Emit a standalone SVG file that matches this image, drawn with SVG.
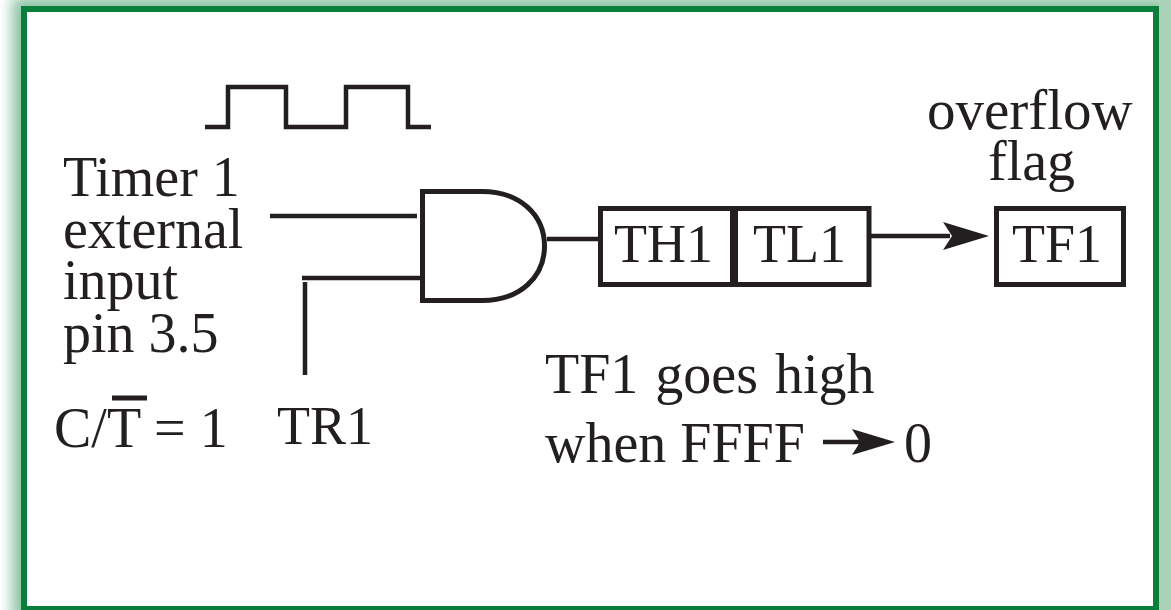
<svg xmlns="http://www.w3.org/2000/svg" width="1171" height="610" viewBox="0 0 1171 610">
<style>
text{font-family:"Liberation Serif","Times New Roman",serif;font-size:56px;fill:#231f20}
.s{font-size:54px}
.w{fill:none;stroke:#231f20;stroke-width:4.500}
.b{fill:#fff;stroke:#231f20;stroke-width:5}
.h{fill:#231f20}
</style>
<defs>
<filter id="glow" x="-5%" y="-5%" width="110%" height="110%"><feGaussianBlur stdDeviation="7"/></filter>
</defs>
<rect width="1171" height="610" fill="#fff"/>
<rect x="12" y="-3" width="1159" height="625" fill="#8cc3a2" filter="url(#glow)"/>
<rect x="1159" y="0" width="12" height="610" fill="#a9d2b9"/>
<rect x="24" y="9" width="1132" height="620" fill="#fff" stroke="#0a7f3c" stroke-width="6"/>
<path d="M21 608H1159" stroke="#0a7f3c" stroke-width="4"/>
<g id="connectors">
<path class="w" d="M205 127H228V87H286V127H346V87H408V127H431"/>
<path class="w" d="M270 216H417"/>
<path class="w" d="M302 278H420"/>
<path class="w" d="M305 282V375"/>
<path class="w" d="M547 239H598"/>
<path class="w" d="M869 236H950"/>
<path class="h" d="M943 222L989 236L943 250L952 236Z"/>
<path class="w" d="M823 442H860"/>
<path class="h" d="M852 429L895 442L852 455L860 442Z"/>
</g>
<g id="clock-label">
<text x="63" y="196">Timer 1</text>
<text x="63" y="248">external</text>
<text x="63" y="299">input</text>
<text x="63" y="352">pin 3.5</text>
</g>
<g id="and-gate"><path class="b" d="M422.500 191.500H482C520 191.500 544.500 215 544.500 246C544.500 277 520 300.500 482 300.500H422.500Z"/></g>
<g id="TH1"><rect class="b" x="600.500" y="208.500" width="134" height="76"/><text class="s" x="614" y="262">TH1</text></g>
<g id="TL1"><rect class="b" x="734" y="208.500" width="135" height="76"/><text class="s" x="753" y="262">TL1</text></g>
<path d="M734 206V287" stroke="#231f20" stroke-width="8"/>
<g id="TF1"><rect class="b" x="996.500" y="208.500" width="127" height="76"/><text class="s" x="1012" y="262">TF1</text></g>
<g id="overflow-label"><text x="927" y="129" style="font-size:57px">overflow</text><text x="988" y="180">flag</text></g>
<g id="ct-label"><text x="54" y="447">C/T = 1</text><path d="M112 398H147" stroke="#231f20" stroke-width="5"/></g>
<g id="tr1-label"><text class="s" x="277" y="444">TR1</text></g>
<g id="note"><text x="545" y="393" word-spacing="3">TF1 goes high</text><text x="545" y="462">when FFFF</text><text x="904" y="462">0</text></g>
</svg>
